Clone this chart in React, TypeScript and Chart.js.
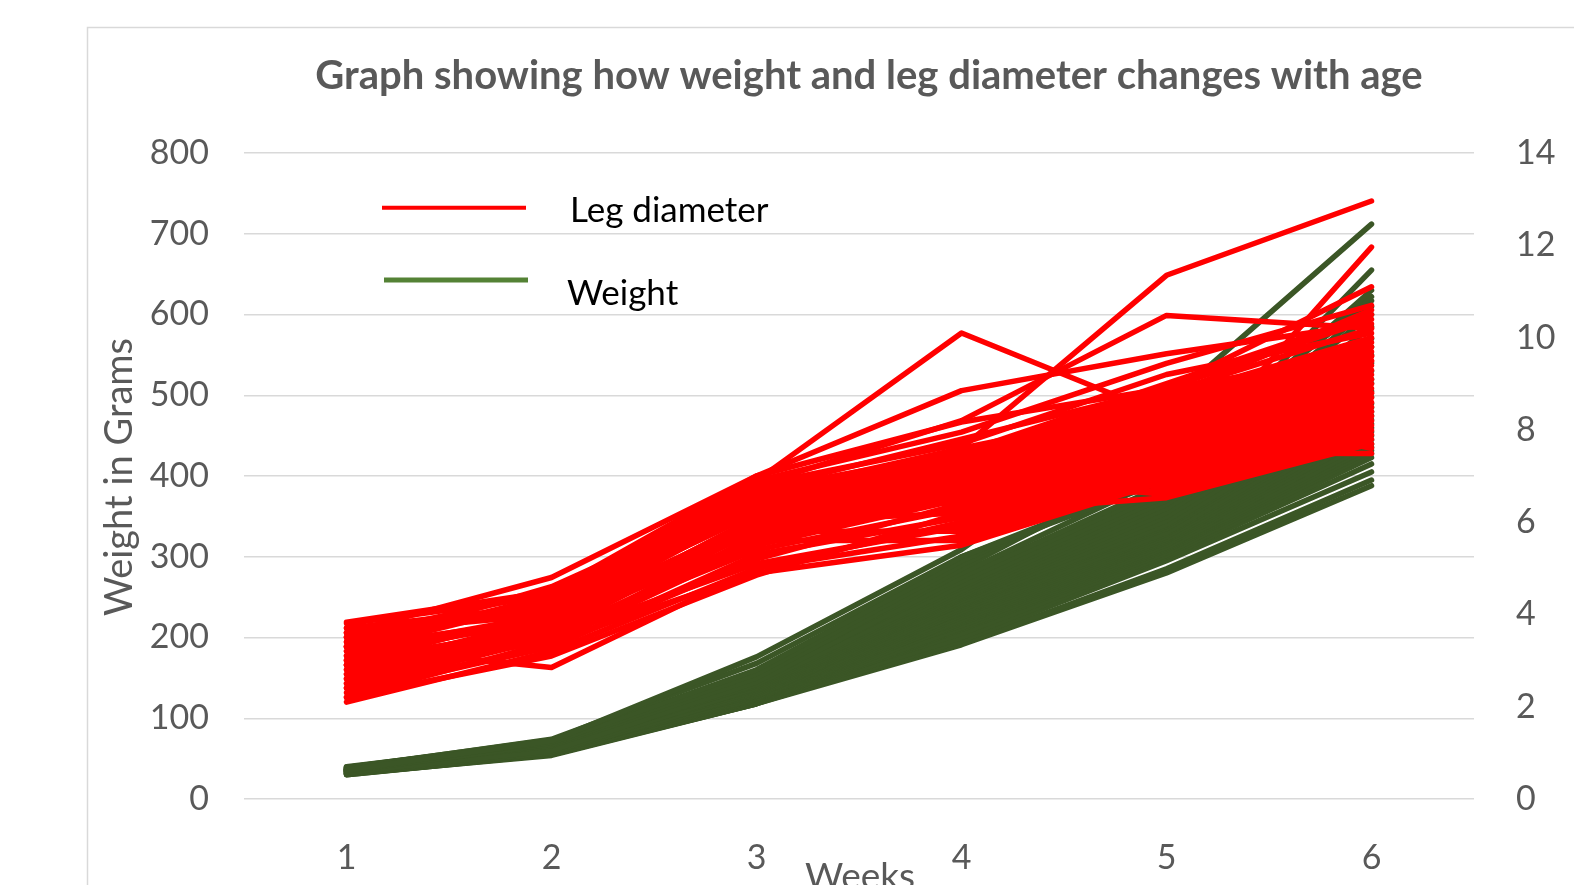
import { useEffect, useRef } from "react";
import { Chart, registerables } from "chart.js";

Chart.register(...registerables);

const weeks = ["1", "2", "3", "4", "5", "6"];

// Weight in grams (left axis), one value per animal for each week
const weightWeek1 = [36, 38, 40, 35, 37, 39, 33, 34, 36, 38, 32, 35, 37, 31, 34, 36, 33, 39, 35, 30, 34, 37, 32, 36, 33, 35, 31, 38, 34, 32, 36, 33, 30, 35, 31, 37];
const weightWeek2 = [72, 74, 70, 68, 66, 71, 60, 64, 62, 69, 58, 65, 63, 57, 61, 67, 59, 73, 60, 56, 62, 66, 58, 64, 57, 61, 55, 68, 59, 56, 63, 58, 55, 60, 54, 65];
const weightWeek3 = [176, 168, 160, 155, 150, 152, 145, 148, 142, 140, 138, 136, 134, 132, 130, 128, 127, 146, 125, 124, 123, 135, 122, 121, 120, 126, 119, 133, 120, 118, 124, 121, 118, 120, 118, 138];
const weightWeek4 = [309, 300, 295, 290, 285, 280, 275, 270, 265, 262, 258, 255, 252, 250, 248, 245, 242, 240, 238, 235, 232, 230, 228, 225, 222, 220, 218, 215, 212, 210, 205, 200, 196, 192, 191, 300];
const weightWeek5 = [490, 395, 405, 410, 420, 400, 390, 385, 380, 375, 370, 365, 360, 355, 350, 345, 340, 338, 335, 330, 328, 325, 322, 320, 318, 315, 312, 310, 308, 305, 302, 300, 295, 285, 280, 400];
const weightWeek6 = [712, 655, 630, 622, 617, 600, 585, 570, 560, 550, 540, 530, 520, 515, 505, 498, 490, 485, 480, 475, 470, 465, 460, 455, 450, 445, 440, 436, 432, 428, 423, 415, 405, 395, 388, 610];

// Leg diameter (right axis), one value per animal for each week
const legWeek1 = [3.0, 3.3, 3.5, 3.2, 2.9, 3.6, 3.8, 3.7, 3.4, 3.1, 2.8, 3.5, 2.6, 3.0, 2.5, 3.3, 2.4, 2.9, 2.2, 3.6, 2.7, 3.2, 2.3, 3.3, 2.6, 3.4, 2.1, 3.1, 2.8, 3.7, 2.4, 3.0, 2.2, 3.5, 2.9, 3.3, 2.7, 3.6, 2.5, 3.83];
const legWeek2 = [4.0, 4.6, 4.5, 4.3, 4.1, 4.8, 4.4, 4.2, 4.3, 4.0, 3.9, 4.1, 3.8, 3.7, 3.6, 3.9, 3.5, 3.8, 3.4, 4.2, 3.6, 4.0, 3.3, 2.85, 3.5, 3.7, 3.2, 3.9, 3.4, 4.1, 3.3, 3.6, 3.1, 4.2, 3.7, 4.4, 3.8, 4.0, 3.5, 4.5];
const legWeek3 = [6.9, 6.6, 7.0, 6.8, 6.5, 7.0, 6.9, 6.7, 6.6, 6.4, 6.3, 6.2, 6.1, 6.0, 5.9, 5.8, 5.7, 5.6, 5.5, 6.5, 5.4, 6.0, 5.3, 5.0, 5.1, 5.8, 5.0, 5.6, 4.9, 6.2, 5.2, 5.5, 4.85, 6.4, 5.9, 6.3, 6.1, 6.8, 5.6, 6.7];
const legWeek4 = [10.1, 7.6, 8.85, 8.2, 7.4, 8.17, 7.95, 7.5, 7.4, 7.3, 7.2, 7.1, 7.0, 6.95, 6.9, 6.8, 6.7, 6.6, 6.5, 6.4, 6.3, 6.2, 6.1, 6.0, 5.9, 5.8, 5.7, 5.6, 5.5, 6.8, 6.4, 7.0, 6.2, 7.6, 6.6, 7.3, 7.1, 7.7, 6.9, 7.8];
const legWeek5 = [8.3, 11.35, 9.65, 10.48, 6.97, 8.9, 9.44, 9.0, 8.9, 8.8, 8.7, 8.6, 8.5, 8.4, 8.3, 8.2, 8.1, 8.0, 7.9, 7.8, 7.7, 7.6, 7.5, 7.4, 7.3, 7.2, 7.1, 7.0, 6.9, 6.8, 6.7, 6.6, 6.53, 8.5, 7.5, 8.7, 8.2, 9.2, 7.7, 8.9];
const legWeek6 = [9.6, 12.96, 10.3, 10.2, 11.96, 11.1, 10.7, 10.5, 10.4, 10.2, 10.0, 9.9, 9.8, 9.7, 9.5, 9.4, 9.3, 9.2, 9.1, 9.0, 8.9, 8.8, 8.7, 8.6, 8.5, 8.4, 8.3, 8.2, 8.1, 8.0, 7.9, 7.8, 7.7, 7.6, 7.49, 10.6, 9.5, 10.1, 8.8, 9.6];

const chartTitle = "Graph showing how weight and leg diameter changes with age";
const weightTitle = "Weight in Grams";
const weeksTitle = "Weeks";
const legLegend = "Leg diameter";
const weightLegend = "Weight";

const RED = "#ff0000";
const GREEN = "#3b5626";
const GREEN_LEGEND = "#548235";
const GREY = "#595959";
const FONT = "Lato, 'Open Sans', sans-serif";

const decorPlugin = {
  id: "decor",
  beforeDraw(chart: any) {
    const ctx = chart.ctx;
    ctx.save();
    ctx.fillStyle = "#ffffff";
    ctx.fillRect(0, 0, chart.width, chart.height);
    ctx.strokeStyle = "#d9d9d9";
    ctx.lineWidth = 1.5;
    ctx.strokeRect(87.5, 27.5, chart.width + 50, chart.height + 50);
    ctx.restore();
  },
  afterDraw(chart: any) {
    const ctx = chart.ctx;
    ctx.save();
    // title
    ctx.fillStyle = GREY;
    ctx.font = `bold 40px ${FONT}`;
    ctx.textAlign = "center";
    ctx.textBaseline = "alphabetic";
    ctx.fillText(chartTitle, 869, 89);
    // y title
    ctx.font = `38px ${FONT}`;
    ctx.save();
    ctx.translate(132, 477);
    ctx.rotate(-Math.PI / 2);
    ctx.fillText(weightTitle, 0, 0);
    ctx.restore();
    // x title
    ctx.font = `37px ${FONT}`;
    ctx.fillText(weeksTitle, 860, 889);
    // legend
    ctx.lineCap = "butt";
    ctx.strokeStyle = RED;
    ctx.lineWidth = 4;
    ctx.beginPath();
    ctx.moveTo(382, 207.7);
    ctx.lineTo(526, 207.7);
    ctx.stroke();
    ctx.strokeStyle = GREEN_LEGEND;
    ctx.lineWidth = 5;
    ctx.beginPath();
    ctx.moveTo(384, 280);
    ctx.lineTo(528, 280);
    ctx.stroke();
    ctx.fillStyle = "#000000";
    ctx.textAlign = "left";
    ctx.font = `35px ${FONT}`;
    ctx.fillText(legLegend, 570, 222);
    ctx.fillText(weightLegend, 567, 305);
    ctx.restore();
  },
};

export default function App() {
  const ref = useRef<HTMLCanvasElement>(null);
  useEffect(() => {
    if (!ref.current) return;
    const common = {
      pointRadius: 0,
      borderWidth: 5.5,
      tension: 0,
      borderCapStyle: "round",
      borderJoinStyle: "round",
      fill: false,
    };
    const weightSets = weightWeek1.map((_, i) => ({
      ...common,
      label: weightLegend,
      data: [weightWeek1[i], weightWeek2[i], weightWeek3[i], weightWeek4[i], weightWeek5[i], weightWeek6[i]],
      yAxisID: "y",
      borderColor: GREEN,
      order: 2,
    }));
    const legSets = legWeek1.map((_, i) => ({
      ...common,
      label: legLegend,
      data: [legWeek1[i], legWeek2[i], legWeek3[i], legWeek4[i], legWeek5[i], legWeek6[i]],
      yAxisID: "y1",
      borderColor: RED,
      order: 1,
    }));
    const tickFont = { family: FONT, size: 34 };
    const chart = new Chart(ref.current, {
      type: "line",
      data: { labels: weeks, datasets: [...legSets, ...weightSets] as any },
      options: {
        responsive: false,
        animation: false,
        events: [],
        layout: { padding: { top: 153, left: 0, right: 0, bottom: 0 } },
        plugins: {
          legend: { display: false },
          tooltip: { enabled: false },
          title: { display: false },
        },
        scales: {
          x: {
            offset: true,
            grid: { display: false },
            border: { display: false },
            ticks: { font: tickFont, color: GREY, padding: 31 },
            afterFit: (s: any) => {
              s.height = 86;
            },
          },
          y: {
            position: "left",
            min: 0,
            max: 800,
            ticks: { stepSize: 100, font: tickFont, color: GREY, padding: 35 },
            grid: { color: "#d9d9d9", lineWidth: 1.5, drawTicks: false },
            border: { display: false },
            afterFit: (s: any) => {
              s.width = 244;
            },
          },
          y1: {
            position: "right",
            min: 0,
            max: 14,
            ticks: { stepSize: 2, font: tickFont, color: GREY, padding: 42 },
            grid: { display: false, drawTicks: false },
            border: { display: false },
            afterFit: (s: any) => {
              s.width = 100;
            },
          },
        },
      } as any,
      plugins: [decorPlugin],
    });
    return () => chart.destroy();
  }, []);
  return (
    <div style={{ position: "fixed", left: 0, top: 0, width: 1574, height: 885, background: "#ffffff", overflow: "hidden" }}>
      <canvas ref={ref} width={1574} height={885} style={{ display: "block" }} />
    </div>
  );
}
